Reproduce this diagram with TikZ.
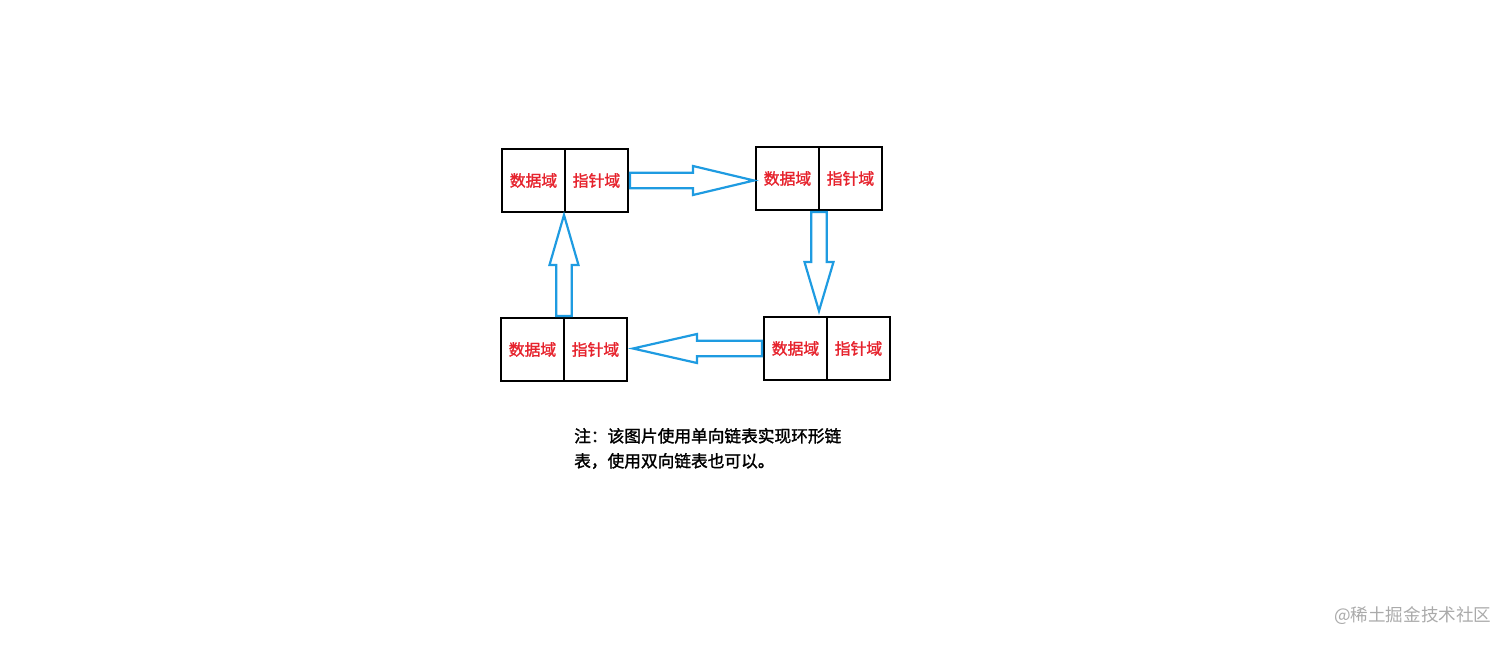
\documentclass[tikz,border=0pt]{standalone}
\usepackage{fontspec}
\newfontfamily\cjk[AutoFakeBold=1.5]{Noto Sans CJK SC}
\usetikzlibrary{calc}
\definecolor{arrowblue}{RGB}{30,155,225}
\definecolor{fieldred}{RGB}{230,35,45}
\definecolor{markgray}{RGB}{170,170,170}
\tikzset{
	cell/.style={draw, line width=1.3pt, minimum width=1.26cm, minimum height=1.26cm,
		inner sep=0pt, outer sep=0pt, text=fieldred, font=\cjk\bfseries\fontsize{9pt}{10pt}\selectfont},
	blockarr/.style={draw=arrowblue, line width=1.25pt, fill=white, to path={
		(\tikztostart) coordinate (tail) (\tikztotarget) coordinate (tip)
		($(tip)!#1!(tail)$) coordinate (hb)
		($(tail)!0.155cm!90:(tip)$) -- ($(hb)!0.155cm!90:(tip)$) -- ($(hb)!0.29cm!90:(tip)$) -- (tip)
		-- ($(hb)!0.29cm!-90:(tip)$) -- ($(hb)!0.155cm!-90:(tip)$) -- ($(tail)!0.155cm!-90:(tip)$) -- cycle}},
	blockarr/.default=1.1cm
}
\begin{document}
\begin{tikzpicture}[x=0.02cm, y=-0.02cm]
	\useasboundingbox (0,0) rectangle (1512,646);
	% nodes of the ring
	\node[cell] (n1d) at (533.5,180.5) {数据域};
	\node[cell, anchor=west] (n1p) at (n1d.east) {指针域};
	\node[cell] (n2d) at (787.5,178.5) {数据域};
	\node[cell, anchor=west] (n2p) at (n2d.east) {指针域};
	\node[cell] (n3d) at (795.5,348.5) {数据域};
	\node[cell, anchor=west] (n3p) at (n3d.east) {指针域};
	\node[cell] (n4d) at (532.5,349.5) {数据域};
	\node[cell, anchor=west] (n4p) at (n4d.east) {指针域};
	%
	\draw[blockarr=1.22cm] ([xshift=0.04cm]n1p.east) to ([xshift=-0.04cm]n2d.west |- n1p.east);
	\draw[blockarr=0.98cm] ([yshift=-0.04cm]n2d.south east) to ([yshift=0.12cm]n2d.south east |- n3d.north);
	\draw[blockarr=1.28cm] ([xshift=-0.04cm]n3d.west) to ([xshift=0.12cm]n4p.east |- n3d.west);
	\draw[blockarr=1.0cm] ([yshift=0.04cm]n4d.north east) to ([yshift=-0.06cm]n4d.north east |- n1d.south);
	%
	\node[anchor=west, align=left, font=\cjk\bfseries\fontsize{9.5pt}{14.2pt}\selectfont] (note) at (568,448.5)
		{注：该图片使用单向链表实现环形链\\表，使用双向链表也可以。};
	\node[anchor=west, text=markgray, font=\cjk\fontsize{10pt}{12pt}\selectfont] (mark) at (1328,616) {@稀土掘金技术社区};
\end{tikzpicture}
\end{document}
